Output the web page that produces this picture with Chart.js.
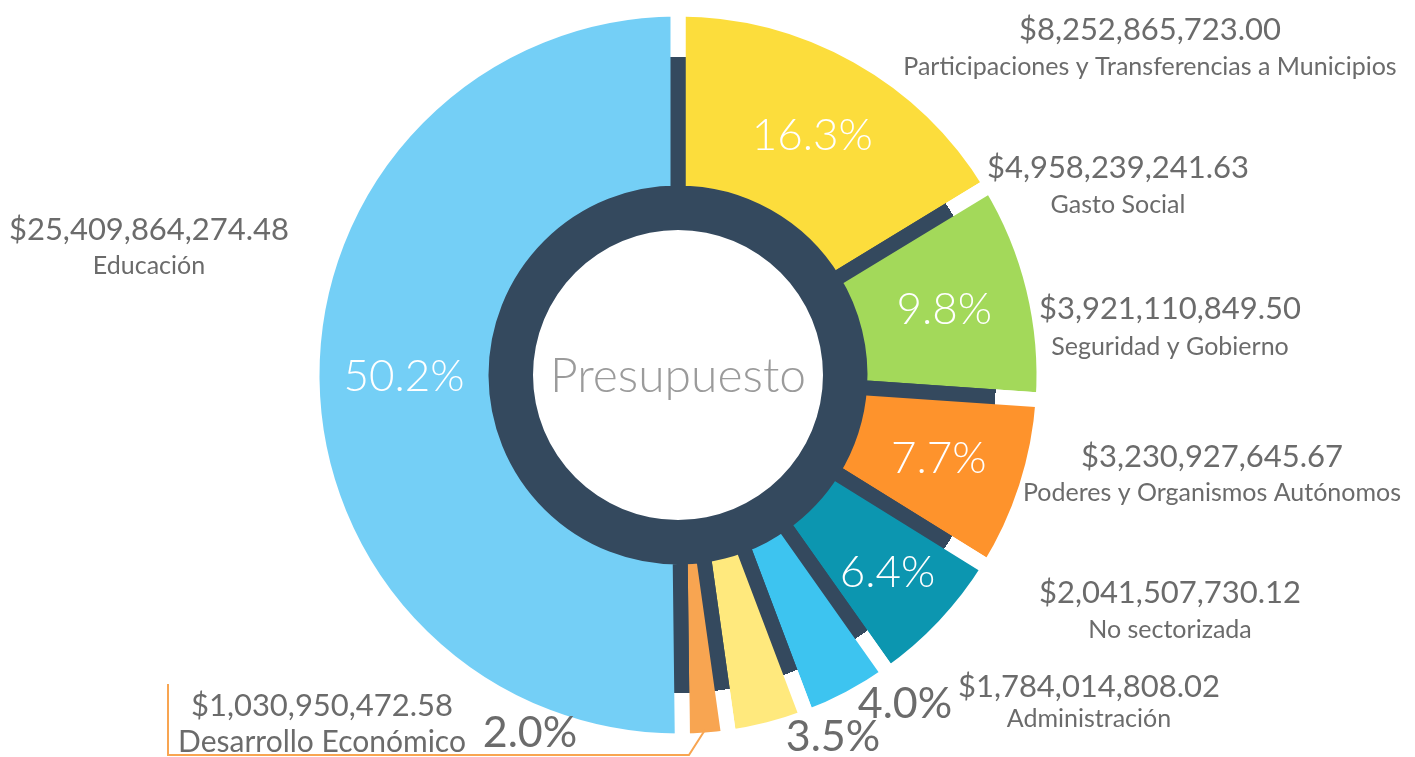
<!DOCTYPE html>
<html>
<head>
<meta charset="utf-8">
<script src="https://cdn.jsdelivr.net/npm/chart.js@4.4.0/dist/chart.umd.min.js"></script>
<style>
  html, body { margin: 0; padding: 0; background: #fff; }
  #wrap { width: 1415px; height: 757px; }
</style>
</head>
<body>
<div id="wrap"><canvas id="budgetChart"></canvas></div>
<script>
// Budget by sector, clockwise from the top
const categories = [
    'Participaciones y Transferencias a Municipios',
    'Gasto Social',
    'Seguridad y Gobierno',
    'Poderes y Organismos Autónomos',
    'No sectorizada',
    'Administración',
    'Desarrollo Económico',
    'Educación'
];
const amounts = [
    8252865723.00,
    4958239241.63,
    3921110849.50,
    3230927645.67,
    2041507730.12,
    1784014808.02,
    1030950472.58,
    25409864274.48
];
const sliceColors = ['#FCDD3C', '#A3D95A', '#FE932C', '#0C96B0', '#3DC4F0', '#FFE97D', '#F8A551', '#74CFF6'];
const darkNavy = '#34495E';
const textGray = '#6b6b6b';

// where the amount + name blocks sit: [centerX, amountY, nameY, nameSize]
const labelSpots = [
    [1150, 30, 67, 25],
    [1118, 168, 205, 25],
    [1170, 309, 347, 25],
    [1212, 457, 493, 25],
    [1170, 593, 630, 25],
    [1089, 687, 719, 25],
    [322, 706, 742, 30],
    [149, 230, 266, 25]
];
// percentages that do not fit inside their slice
const outsidePct = { 4: [905, 704], 5: [833, 737], 6: [530, 733] };

const total = amounts.reduce((a, b) => a + b, 0);

function money(v) {
    return '$' + v.toLocaleString('en-US', { minimumFractionDigits: 2, maximumFractionDigits: 2 });
}

const labelPlugin = {
    id: 'budgetLabels',
    afterDatasetsDraw(chart) {
        const ctx = chart.ctx;
        const arcs = chart.getDatasetMeta(0).data;
        ctx.save();
        ctx.textAlign = 'center';
        ctx.textBaseline = 'middle';

        // center title
        const cx = arcs[0].x, cy = arcs[0].y;
        ctx.fillStyle = '#9b9b9b';
        ctx.font = '300 48px Lato';
        ctx.fillText('Presupuesto', cx, cy + 2);

        // leader line for Desarrollo Económico
        const d = arcs[6];
        const dm = (d.startAngle + d.endAngle) / 2;
        const dx = d.x + Math.cos(dm) * (d.outerRadius - 10);
        const dy = d.y + Math.sin(dm) * (d.outerRadius - 10);
        ctx.strokeStyle = '#F8A551';
        ctx.lineWidth = 2;
        ctx.beginPath();
        ctx.moveTo(dx, dy);
        ctx.lineTo(dx - 16, 755);
        ctx.lineTo(168, 755);
        ctx.lineTo(168, 684);
        ctx.stroke();

        arcs.forEach((arc, i) => {
            const pct = (amounts[i] / total * 100).toFixed(1) + '%';
            if (outsidePct[i]) {
                ctx.fillStyle = textGray;
                ctx.font = '43px Lato';
                ctx.fillText(pct, outsidePct[i][0], outsidePct[i][1]);
            } else {
                const mid = (arc.startAngle + arc.endAngle) / 2;
                const r = (arc.innerRadius + arc.outerRadius) / 2 + (i === 3 ? 14 : 0);
                ctx.fillStyle = '#ffffff';
                ctx.font = '300 44px Lato';
                ctx.fillText(pct, arc.x + Math.cos(mid) * r, arc.y + Math.sin(mid) * r);
            }

            const spot = labelSpots[i];
            ctx.fillStyle = textGray;
            ctx.font = '31px Lato';
            ctx.fillText(money(amounts[i]), spot[0], spot[1]);
            ctx.font = spot[3] + 'px Lato';
            ctx.fillText(categories[i], spot[0], spot[2]);
        });
        ctx.restore();
    }
};

const ctx = document.getElementById('budgetChart').getContext('2d');
const chart = new Chart(ctx, {
    type: 'doughnut',
    data: {
        labels: categories,
        datasets: [
            {
                data: amounts,
                backgroundColor: sliceColors,
                // dark inside the navy disc, white outside it -> gaps like the original
                borderColor: function(context) {
                    const area = context.chart.chartArea;
                    if (!area) return darkNavy;
                    const cx = (area.left + area.right) / 2;
                    const cy = (area.top + area.bottom) / 2;
                    const g = context.chart.ctx.createRadialGradient(cx, cy, 0, cx, cy, 400);
                    g.addColorStop(0, darkNavy);
                    g.addColorStop(318 / 400, darkNavy);
                    g.addColorStop(318 / 400, '#ffffff');
                    g.addColorStop(1, '#ffffff');
                    return g;
                },
                borderWidth: 15,
                weight: 184
            },
            {
                data: [1],
                backgroundColor: [darkNavy],
                borderWidth: 0,
                weight: 37
            }
        ]
    },
    options: {
        responsive: true,
        maintainAspectRatio: false,
        animation: false,
        events: [],
        radius: 366,
        cutout: (145 / 366 * 100) + '%',
        layout: {
            padding: { left: 0, right: 59, top: 0, bottom: 7 }
        },
        plugins: {
            legend: { display: false },
            tooltip: { enabled: false }
        }
    },
    plugins: [labelPlugin]
});
</script>
</body>
</html>
